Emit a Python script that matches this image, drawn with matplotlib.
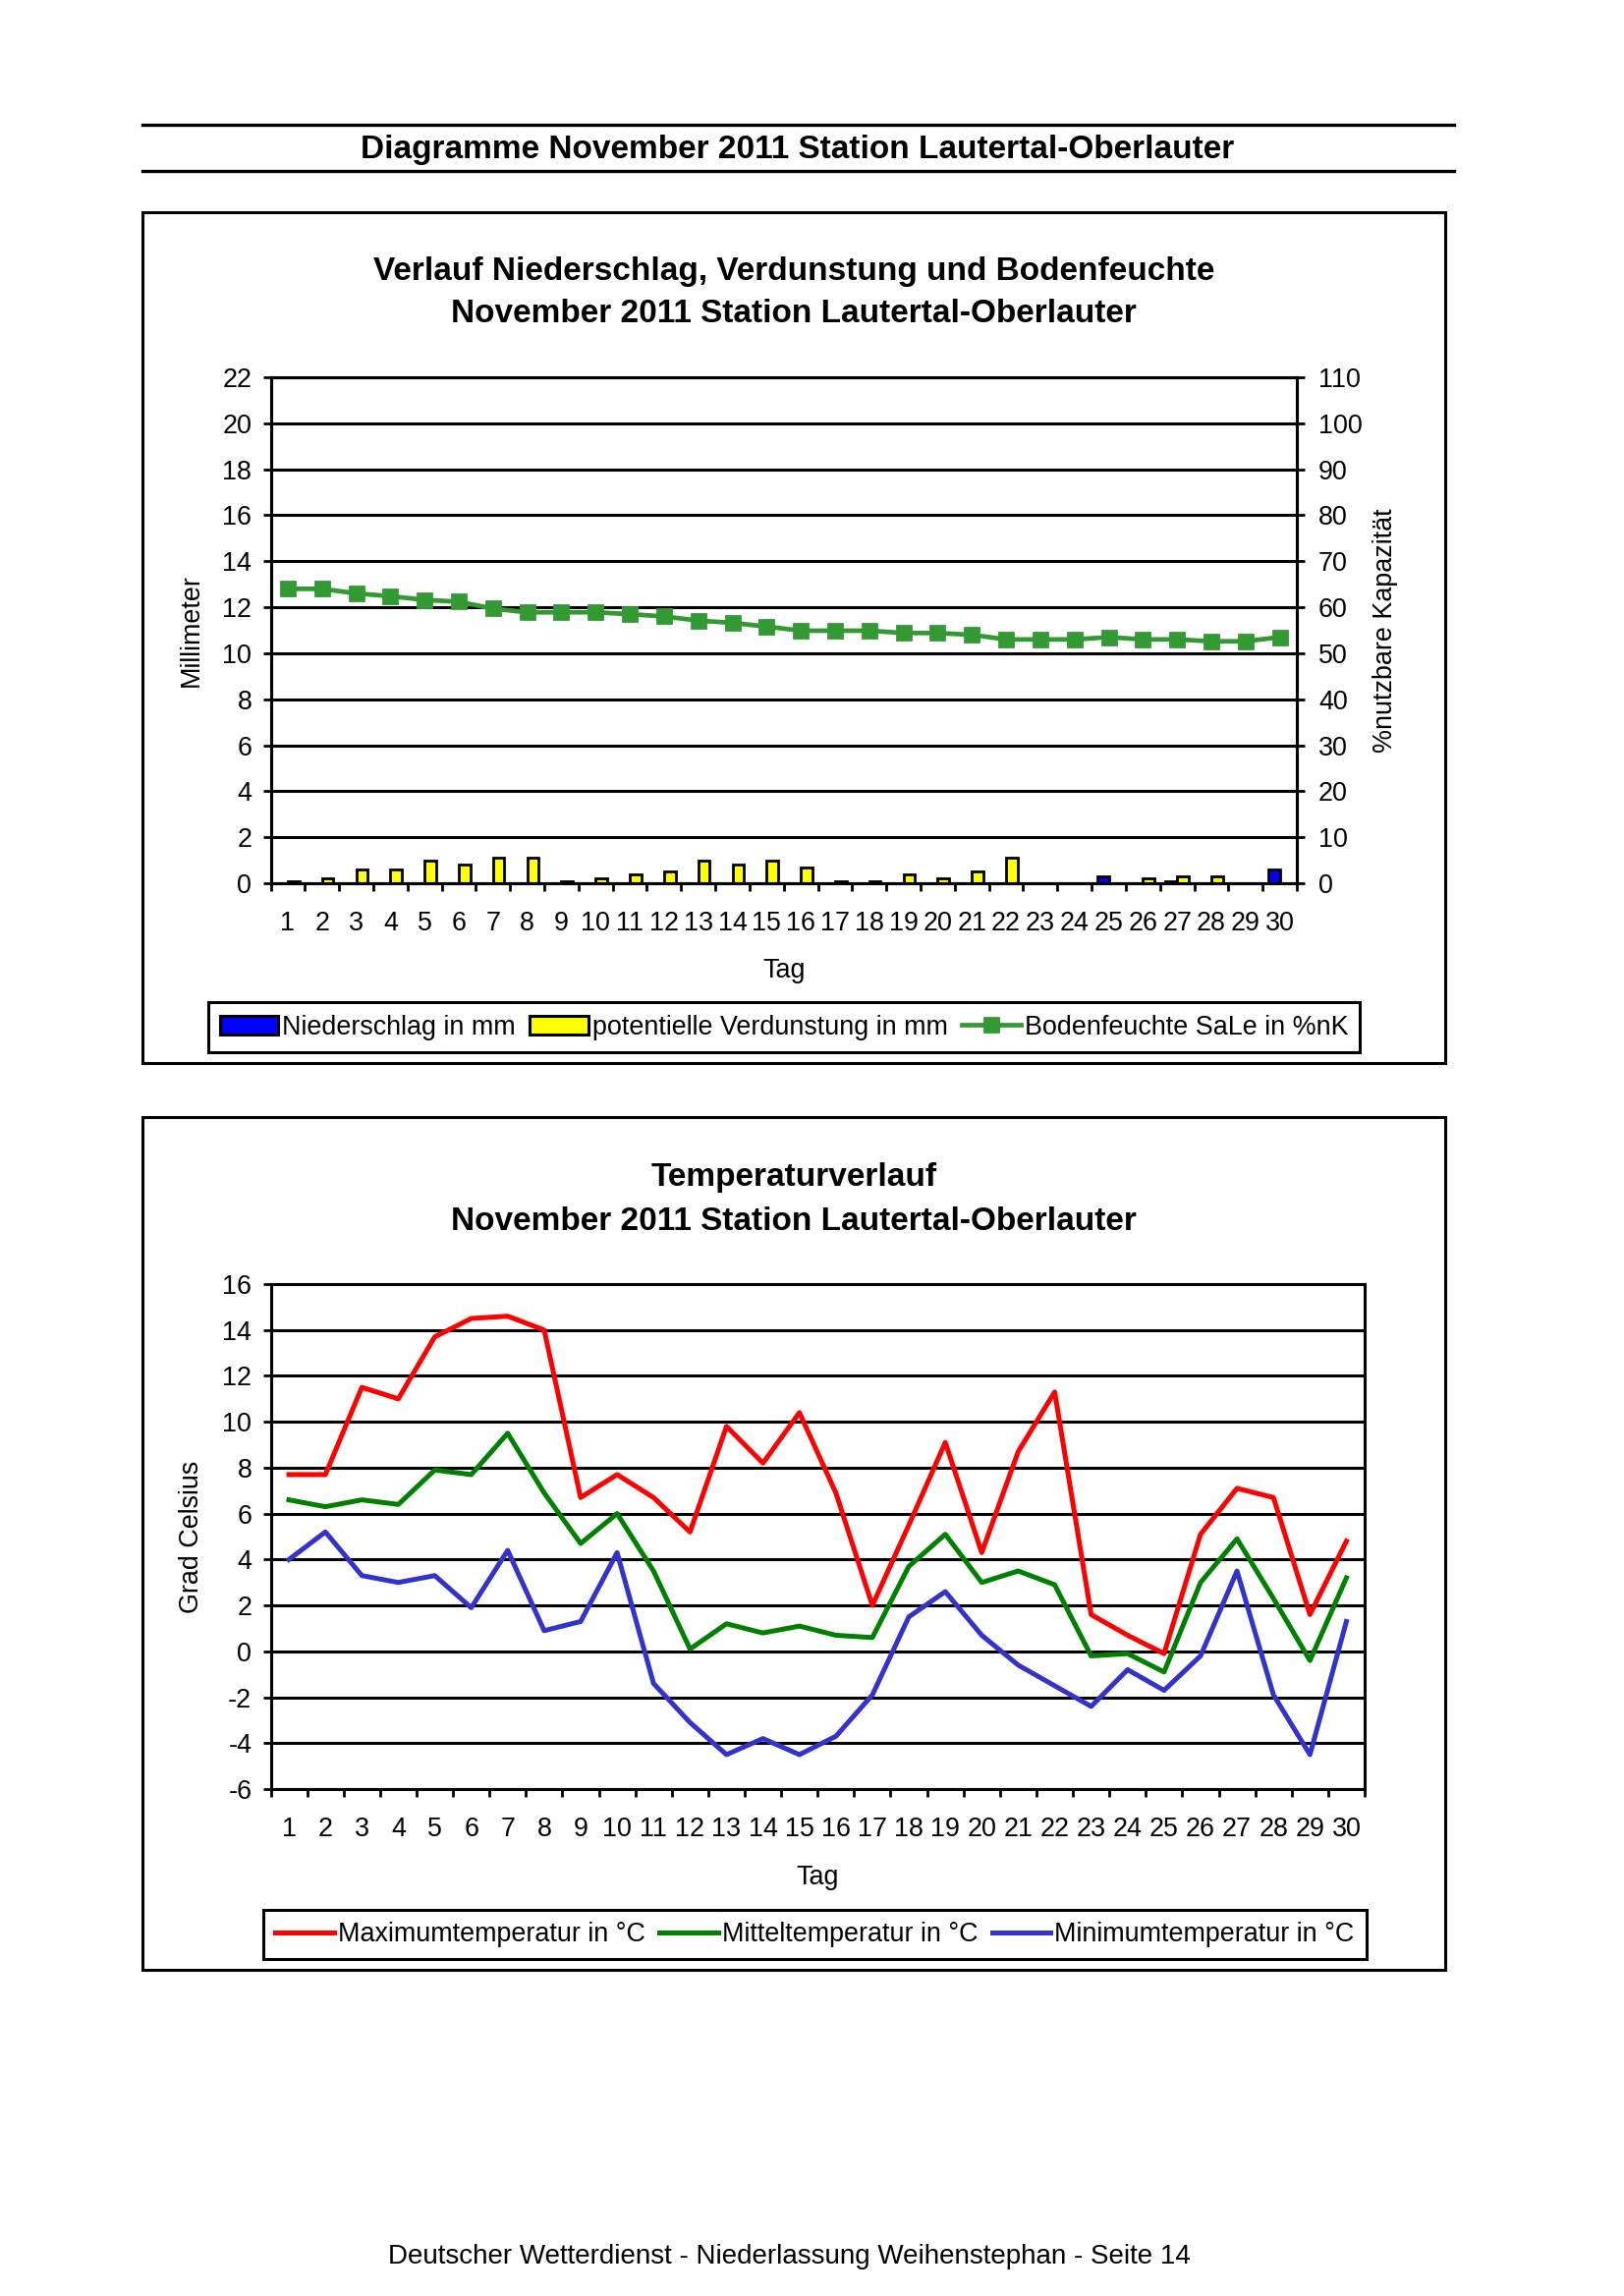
import matplotlib
matplotlib.use('Agg')
import matplotlib.pyplot as plt
from matplotlib.lines import Line2D
from matplotlib.patches import Rectangle, Patch
import numpy as np

plt.rcParams['font.family'] = ['Liberation Sans', 'DejaVu Sans']
plt.rcParams['axes.unicode_minus'] = False

# DATA
days = list(range(1, 31))
day_labels = [str(d) for d in days]

niederschlag = [0.0, 0.0, 0.0, 0.0, 0.0, 0.0, 0.0, 0.0, 0.0, 0.0,
                0.0, 0.0, 0.0, 0.0, 0.0, 0.0, 0.0, 0.0, 0.0, 0.0,
                0.0, 0.0, 0.0, 0.0, 0.3, 0.0, 0.1, 0.0, 0.0, 0.6]
verdunstung = [0.1, 0.2, 0.6, 0.6, 1.0, 0.8, 1.1, 1.1, 0.1, 0.2,
               0.4, 0.5, 1.0, 0.8, 1.0, 0.7, 0.1, 0.1, 0.4, 0.2,
               0.5, 1.1, 0.0, 0.0, 0.0, 0.2, 0.3, 0.3, 0.0, 0.0]
bodenfeuchte = [64.0, 64.0, 63.0, 62.4, 61.6, 61.2, 59.7, 58.9, 58.9, 58.9,
                58.5, 58.0, 57.1, 56.6, 55.8, 54.9, 54.9, 54.9, 54.4, 54.4,
                54.0, 53.0, 53.0, 53.0, 53.5, 53.0, 53.0, 52.6, 52.6, 53.5]

t_max = [7.7, 7.7, 11.5, 11.0, 13.7, 14.5, 14.6, 14.0, 6.7, 7.7,
         6.7, 5.2, 9.8, 8.2, 10.4, 6.9, 2.0, 5.5, 9.1, 4.3,
         8.7, 11.3, 1.6, 0.7, -0.1, 5.1, 7.1, 6.7, 1.6, 4.8]
t_mittel = [6.6, 6.3, 6.6, 6.4, 7.9, 7.7, 9.5, 6.9, 4.7, 6.0,
            3.5, 0.1, 1.2, 0.8, 1.1, 0.7, 0.6, 3.7, 5.1, 3.0,
            3.5, 2.9, -0.2, -0.1, -0.9, 3.0, 4.9, 2.3, -0.4, 3.2]
t_min = [4.0, 5.2, 3.3, 3.0, 3.3, 1.9, 4.4, 0.9, 1.3, 4.3,
         -1.4, -3.1, -4.5, -3.8, -4.5, -3.7, -1.9, 1.5, 2.6, 0.7,
         -0.6, -1.5, -2.4, -0.8, -1.7, -0.2, 3.5, -1.9, -4.5, 1.3]

W, H = 1653, 2337
FS = 9.7


# pixel -> figure fraction
def fx(px):
    return px / W


def fy(py):
    return 1 - py / H


# Common axis styling (Excel-like category axis)
def style_axis(ax, ymin, ymax, ystep):
    ax.set_xlim(0.5, 30.5)
    ax.set_ylim(ymin, ymax)
    ax.set_yticks(np.arange(ymin, ymax + 0.001, ystep))
    ax.set_xticks(days)
    ax.set_xticklabels(day_labels)
    ax.set_xticks(np.arange(0.5, 31, 1), minor=True)
    ax.tick_params(axis='x', which='major', length=0, pad=10, labelsize=FS)
    ax.tick_params(axis='x', which='minor', length=2.9, width=1.0, direction='out')
    ax.tick_params(axis='y', length=2.9, width=1.0, direction='out', pad=4, labelsize=FS)
    ax.yaxis.grid(True, color='black', lw=1.1)
    ax.set_axisbelow(True)
    for sp in ax.spines.values():
        sp.set_linewidth(1.1)
        sp.set_color('black')


# Legend box in figure coordinates
def add_legend(fig, handles, labels, cx, cy):
    leg = fig.legend(handles, labels, loc='center', bbox_to_anchor=(fx(cx), fy(cy)),
                     bbox_transform=fig.transFigure, ncol=3, fontsize=FS, frameon=True,
                     fancybox=False, edgecolor='black', framealpha=1, borderpad=0.45,
                     handlelength=2.2, handletextpad=0.15, columnspacing=0.55)
    leg.get_frame().set_linewidth(1.1)


# Page frame, header and footer
def draw_page(fig):
    for y in (127, 174):
        fig.add_artist(Line2D([fx(145), fx(1480)], [fy(y), fy(y)],
                              transform=fig.transFigure, color='black', lw=1.2))
    fig.text(fx(812), fy(153), 'Diagramme November 2011 Station Lautertal-Oberlauter',
             ha='center', va='center', fontsize=12, fontweight='bold')
    for top, bottom in ((216, 1082), (1137, 2005)):
        fig.add_artist(Rectangle((fx(145), fy(bottom)), fx(1471) - fx(145), fy(top) - fy(bottom),
                                 transform=fig.transFigure, fill=False, lw=1.1, edgecolor='black'))
    fig.text(fx(803), fy(2297), 'Deutscher Wetterdienst - Niederlassung Weihenstephan - Seite 14',
             ha='center', va='center', fontsize=10)


# Precipitation / evaporation bars and soil moisture line
def draw_water_chart(fig):
    ax = fig.add_axes([fx(275.5), fy(899), fx(1320) - fx(275.5), fy(384) - fy(899)])
    style_axis(ax, 0, 22, 2)
    x = np.array(days)
    w = 0.335
    ax.bar(x - w / 2, niederschlag, width=w, color='#0000FF', edgecolor='black', lw=1.0)
    ax.bar(x + w / 2, verdunstung, width=w, color='#FFFF00', edgecolor='black', lw=1.0)

    ax2 = ax.twinx()
    ax2.set_ylim(0, 110)
    ax2.set_yticks(np.arange(0, 111, 10))
    ax2.tick_params(axis='y', length=2.9, width=1.0, direction='out', pad=5, labelsize=FS)
    for sp in ax2.spines.values():
        sp.set_linewidth(1.1)
    ax2.plot(x, bodenfeuchte, color='#339933', lw=1.7, marker='s', markersize=5)

    fig.text(fx(808), fy(276), 'Verlauf Niederschlag, Verdunstung und Bodenfeuchte',
             ha='center', va='center', fontsize=12, fontweight='bold')
    fig.text(fx(808), fy(320), 'November 2011 Station Lautertal-Oberlauter',
             ha='center', va='center', fontsize=12, fontweight='bold')
    fig.text(fx(195), fy(642), 'Millimeter', rotation=90, ha='center', va='center', fontsize=FS)
    fig.text(fx(1410), fy(642), '%nutzbare Kapazität', rotation=90, ha='center', va='center', fontsize=FS)
    fig.text(fx(798), fy(988), 'Tag', ha='center', va='center', fontsize=FS)

    handles = [Patch(facecolor='#0000FF', edgecolor='black', lw=1.1),
               Patch(facecolor='#FFFF00', edgecolor='black', lw=1.1),
               Line2D([], [], color='#339933', lw=1.7, marker='s', markersize=5)]
    labels = ['Niederschlag in mm', 'potentielle Verdunstung in mm', 'Bodenfeuchte SaLe in %nK']
    add_legend(fig, handles, labels, 798, 1045.5)


# Temperature lines
def draw_temp_chart(fig):
    ax = fig.add_axes([fx(275.5), fy(1821), fx(1389) - fx(275.5), fy(1307) - fy(1821)])
    style_axis(ax, -6, 16, 2)
    ax.plot(days, t_max, color='#FF0000', lw=1.8, label='Maximumtemperatur in °C')
    ax.plot(days, t_mittel, color='#008000', lw=1.8, label='Mitteltemperatur in °C')
    ax.plot(days, t_min, color='#3333CC', lw=1.8, label='Minimumtemperatur in °C')

    fig.text(fx(808), fy(1199), 'Temperaturverlauf',
             ha='center', va='center', fontsize=12, fontweight='bold')
    fig.text(fx(808), fy(1243), 'November 2011 Station Lautertal-Oberlauter',
             ha='center', va='center', fontsize=12, fontweight='bold')
    fig.text(fx(195), fy(1564), 'Grad Celsius', rotation=90, ha='center', va='center', fontsize=FS)
    fig.text(fx(832), fy(1911), 'Tag', ha='center', va='center', fontsize=FS)

    add_legend(fig, *ax.get_legend_handles_labels(), 829.5, 1969)


fig = plt.figure(figsize=(W / 200, H / 200), dpi=200)
draw_page(fig)
draw_water_chart(fig)
draw_temp_chart(fig)
fig.savefig('out.png', dpi=200)
plt.close(fig)
